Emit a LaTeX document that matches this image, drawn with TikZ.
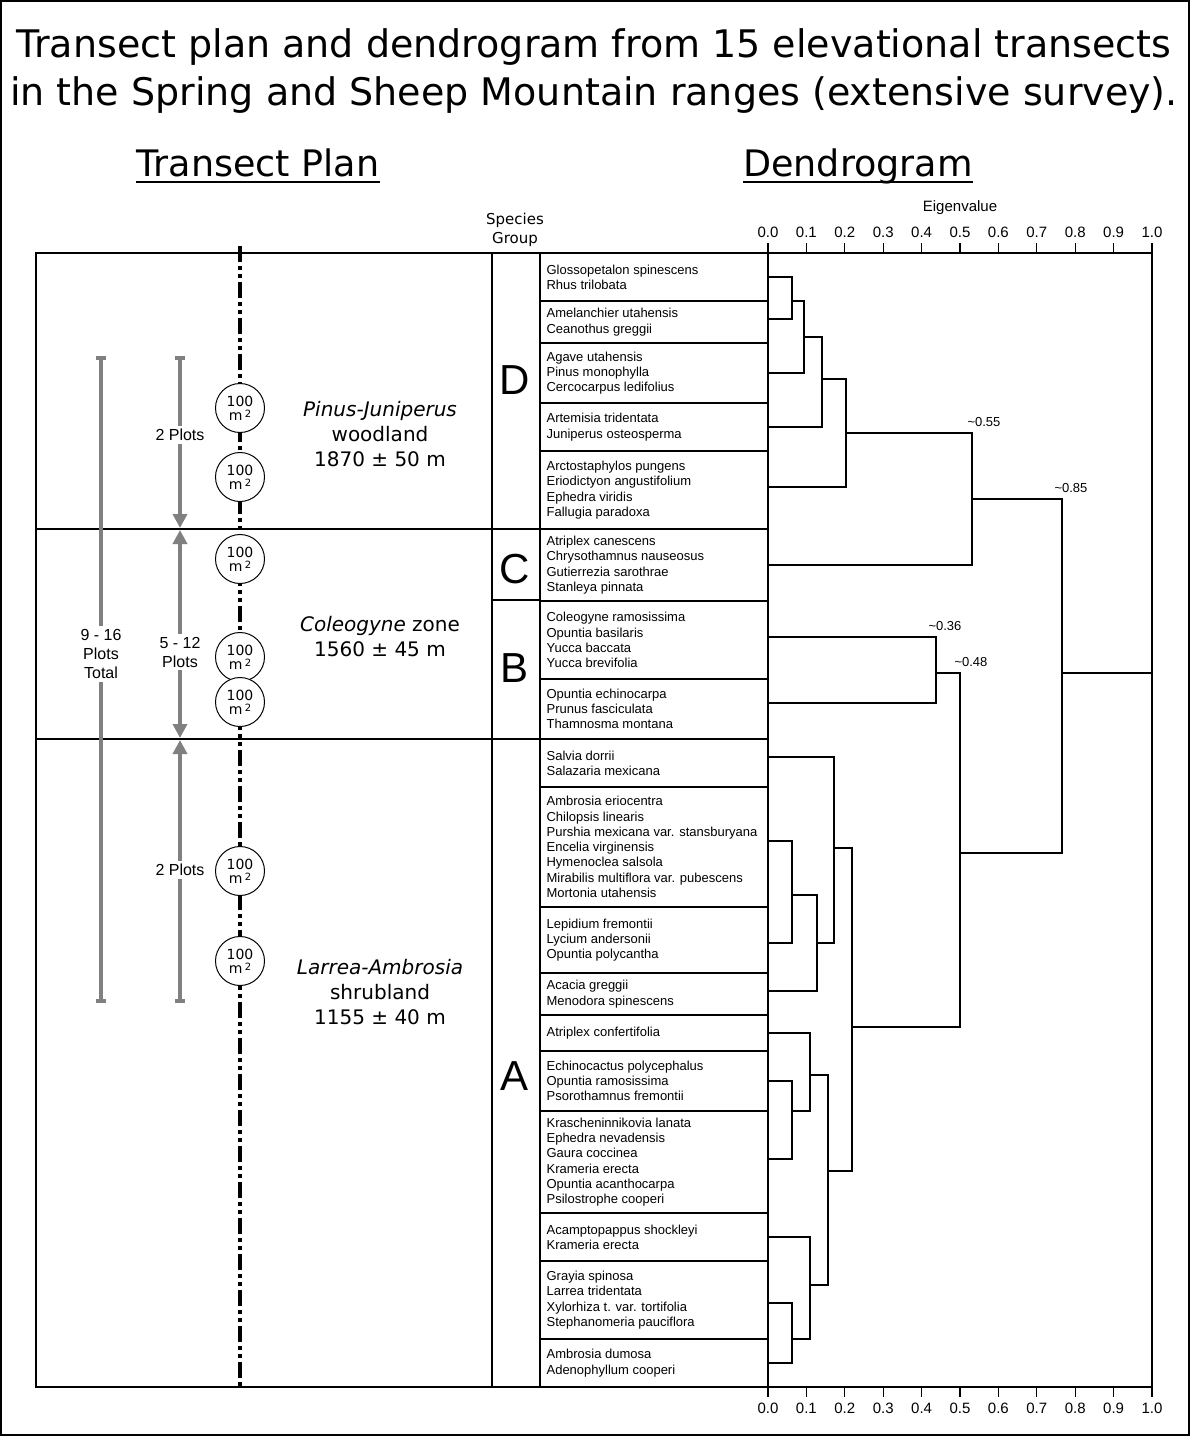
\documentclass[tikz,border=0pt]{standalone}
\usepackage{fontspec}
\setmainfont{DejaVu Sans}
\newfontfamily\listfont{Liberation Sans}
\usepackage{tikz}
\usetikzlibrary{arrows.meta}

\begin{document}
\begin{tikzpicture}[x=1pt,y=-1pt,line width=1.2pt,
  heading/.style={inner sep=0pt,anchor=base,font=\fontsize{36.5}{40}\selectfont},
  species/.style={anchor=west,align=left,inner sep=0pt,font=\listfont\fontsize{13}{15.3}\selectfont},
  grp/.style={font=\listfont\fontsize{42}{42}\selectfont},
  plot/.style={draw,circle,minimum size=49pt,inner sep=0pt,fill=white,align=center,line width=1pt,font=\fontsize{14}{16}\selectfont},
  zone/.style={align=center,font=\fontsize{20}{25}\selectfont},
  count/.style={fill=white,align=center,inner sep=3pt,font=\listfont\fontsize{16}{19}\selectfont},
  graybar/.style={draw=gray,line width=4pt},
  tip/.style={-{Triangle[width=14pt,length=14pt]}},
  ticklbl/.style={font=\listfont\fontsize{15}{15}\selectfont},
  cut/.style={font=\listfont\fontsize{13}{13}\selectfont}
]
\useasboundingbox (0,0) rectangle (1190,1436);
\draw[line width=1.5pt] (1,1) rectangle (1189,1435);

% Title and headings
\node[align=center,font=\fontsize{38}{48}\selectfont] (title) at (594,71)
  {Transect plan and dendrogram from 15 elevational transects\\in the Spring and Sheep Mountain ranges (extensive survey).};
\node[heading] (planhead) at (258,176) {Transect Plan};
\node[heading] (dendhead) at (858,176) {Dendrogram};
\draw[line width=2pt] ([yshift=-6pt]planhead.base west) -- ([yshift=-6pt]planhead.base east);
\draw[line width=2pt] ([yshift=-6pt]dendhead.base west) -- ([yshift=-6pt]dendhead.base east);

% Transect plan frame
\draw (36,253) rectangle (492,1387);
\draw (36,529) -- (540,529);
\draw (36,739) -- (540,739);
\draw (492,253) rectangle (540,1387);
\draw (492,600) -- (540,600);
\node[align=center,font=\fontsize{15}{19}\selectfont] (grouphead) at (515,230) {Species\\Group};
\node[grp] (gD) at (515,380) {D};
\node[grp] (gC) at (515,569) {C};
\node[grp] (gB) at (515,668) {B};
\node[grp] (gA) at (515,1076) {A};

% transect line and plots
\draw[line width=4pt,dash pattern=on 16pt off 4pt on 4pt off 4pt on 4pt off 4pt] (240,246) -- (240,1387);
\foreach \y [count=\n] in {408,477,559,657,702,871,961}
  \node[plot] (p\n) at (240,\y) {100\\[-2pt]m\,{\fontsize{10}{10}\selectfont\raisebox{3pt}{2}}};

\node[zone] (pj) at (380,434) {\textit{Pinus-Juniperus}\\woodland\\1870 ± 50 m};
\node[zone] (cz) at (380,637) {\textit{Coleogyne} zone\\1560 ± 45 m};
\node[zone] (la) at (380,992) {\textit{Larrea-Ambrosia}\\shrubland\\1155 ± 40 m};

% plot counts
\coordinate (ltop) at (101,358);
\coordinate (lbot) at (101,1001);
\coordinate (mtop) at (180,358);
\coordinate (mbot) at (180,1001);
\draw[graybar] (ltop) -- (lbot);
\draw[graybar,tip] (mtop) -- (180,528);
\draw[graybar,tip] (180,633) -- (180,530);
\draw[graybar,tip] (180,633) -- (180,738);
\draw[graybar,tip] (mbot) -- (180,740);
\foreach \x in {101,180} {
  \fill[gray] (\x-5,356) rectangle (\x+5,360);
  \fill[gray] (\x-5,999) rectangle (\x+5,1003);
}
\node[count] (tot) at (101,654) {9 - 16\\Plots\\Total};
\node[count] (mid) at (180,652) {5 - 12\\Plots};
\node[count] (up) at (180,435) {2 Plots};
\node[count] (low) at (180,870) {2 Plots};

% Species lists
\foreach \ya/\yb/\txt [count=\n] in {
  253/301/{Glossopetalon spinescens\\Rhus trilobata},
  301/343/{Amelanchier utahensis\\Ceanothus greggii},
  343/403/{Agave utahensis\\Pinus monophylla\\Cercocarpus ledifolius},
  403/451/{Artemisia tridentata\\Juniperus osteosperma},
  451/529/{Arctostaphylos pungens\\Eriodictyon angustifolium\\Ephedra viridis\\Fallugia paradoxa},
  529/601/{Atriplex canescens\\Chrysothamnus nauseosus\\Gutierrezia sarothrae\\Stanleya pinnata},
  601/679/{Coleogyne ramosissima\\Opuntia basilaris\\Yucca baccata\\Yucca brevifolia},
  679/739/{Opuntia echinocarpa\\Prunus fasciculata\\Thamnosma montana},
  739/787/{Salvia dorrii\\Salazaria mexicana},
  787/907/{Ambrosia eriocentra\\Chilopsis linearis\\Purshia mexicana var. stansburyana\\Encelia virginensis\\Hymenoclea salsola\\Mirabilis multiflora var. pubescens\\Mortonia utahensis},
  907/973/{Lepidium fremontii\\Lycium andersonii\\Opuntia polycantha},
  973/1015/{Acacia greggii\\Menodora spinescens},
  1015/1051/{Atriplex confertifolia},
  1051/1111/{Echinocactus polycephalus\\Opuntia ramosissima\\Psorothamnus fremontii},
  1111/1213/{Krascheninnikovia lanata\\Ephedra nevadensis\\Gaura coccinea\\Krameria erecta\\Opuntia acanthocarpa\\Psilostrophe cooperi},
  1213/1261/{Acamptopappus shockleyi\\Krameria erecta},
  1261/1339/{Grayia spinosa\\Larrea tridentata\\Xylorhiza t. var. tortifolia\\Stephanomeria pauciflora},
  1339/1387/{Ambrosia dumosa\\Adenophyllum cooperi}} {
  \draw (540,\ya) rectangle (768,\yb);
  \node[species] (sp\n) at (546,{(\ya+\yb)/2}) {\txt};
}

% Dendrogram axes
\draw (768,253) rectangle (1152,1387);
\node[ticklbl] (eig) at (960,208) {Eigenvalue};
\foreach \i/\lab in {0/0.0,1/0.1,2/0.2,3/0.3,4/0.4,5/0.5,6/0.6,7/0.7,8/0.8,9/0.9,10/1.0} {
  \draw (768+38.4*\i,243) -- (768+38.4*\i,253);
  \draw (768+38.4*\i,1387) -- (768+38.4*\i,1397);
  \node[ticklbl] (t\i) at (768+38.4*\i,232) {\lab};
  \node[ticklbl] (b\i) at (768+38.4*\i,1408) {\lab};
}

% branches, groups D and C
\draw (768,277) -| (792,319) -- (768,319);
\draw (792,301) -| (804,373) -- (768,373);
\draw (804,337) -| (822,427) -- (768,427);
\draw (822,379) -| (846,487) -- (768,487);
\draw (846,433) -| (972,565) -- (768,565);
% group B
\draw (768,637) -| (936,703) -- (768,703);
\draw (936,673) -| (960,1027) -- (852,1027);
% group A
\draw (768,841) -| (792,943) -- (768,943);
\draw (792,895) -| (817,991) -- (768,991);
\draw (768,757) -| (834,943) -- (817,943);
\draw (768,1081) -| (792,1159) -- (768,1159);
\draw (768,1033) -| (810,1111) -- (792,1111);
\draw (768,1303) -| (792,1363) -- (768,1363);
\draw (768,1237) -| (810,1339) -- (792,1339);
\draw (810,1075) -| (828,1285) -- (810,1285);
\draw (834,848) -| (852,1171) -- (828,1171);
% root
\draw (972,499) -| (1062,853) -- (960,853);
\draw (1062,673) -- (1152,673);

\node[cut] (c55) at (984,422) {\textasciitilde 0.55};
\node[cut] (c85) at (1071,488) {\textasciitilde 0.85};
\node[cut] (c36) at (945,626) {\textasciitilde 0.36};
\node[cut] (c48) at (971,662) {\textasciitilde 0.48};

\end{tikzpicture}
\end{document}
